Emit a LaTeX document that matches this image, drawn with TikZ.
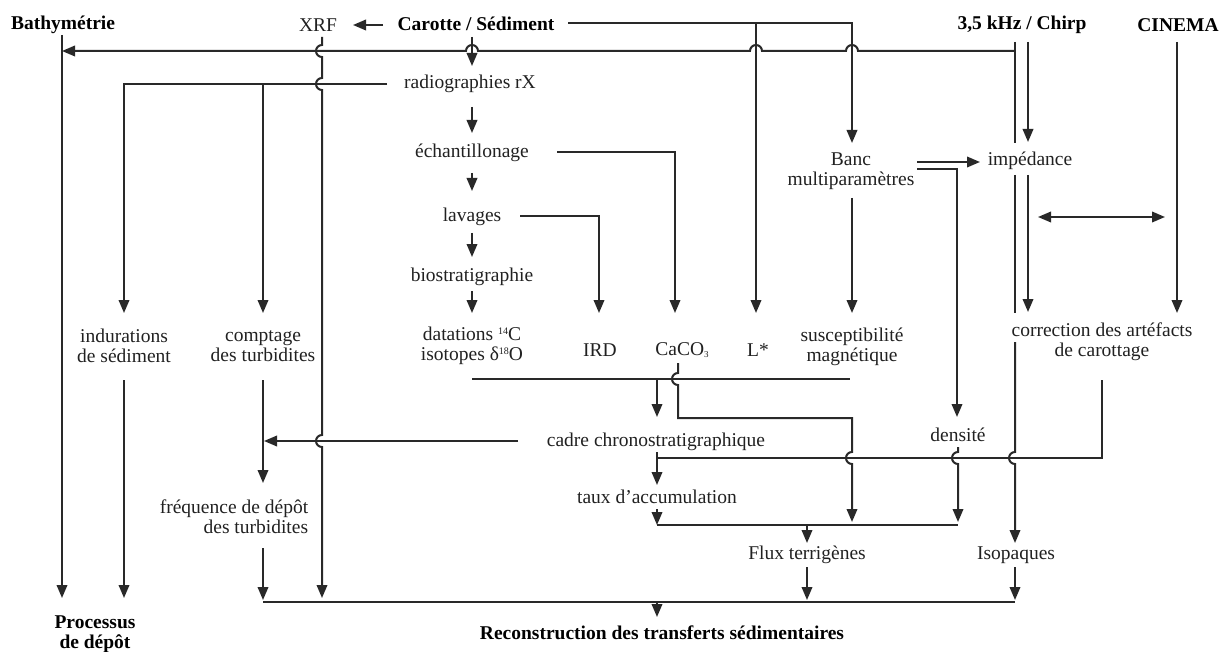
\documentclass[tikz,border=0pt]{standalone}
\usepackage{fontspec}
\setmainfont{Liberation Serif}
\usetikzlibrary{arrows.meta,calc}
\definecolor{tc}{rgb}{0.13,0.13,0.13}
\definecolor{lc}{rgb}{0.16,0.16,0.16}
\newcommand\dfs{\fontsize{19.5}{20}\selectfont}
\newcommand\mysup[1]{\raisebox{6.5pt}{\fontsize{10}{10}\selectfont #1}}
\newcommand\mysub[1]{\raisebox{-2pt}{\fontsize{9}{9}\selectfont #1}}
\tikzset{
  ln/.style={line width=2pt, draw=lc},
  arr/.style={ln, -{Triangle[length=13pt,width=10.5pt]}},
  darr/.style={ln, {Triangle[length=13pt,width=10.5pt]}-{Triangle[length=13pt,width=10.5pt]}},
  txt/.style={inner sep=0pt, text=tc, font=\dfs, align=center},
  btxt/.style={txt, text=black, font=\dfs\bfseries},
}
\begin{document}
\begin{tikzpicture}[x=1pt,y=1pt]
\useasboundingbox[fill=white] (0,0) rectangle (1222,-652);
% nodes
\node[btxt] (bathy) at (63,-25) {Bathymétrie};
\node[txt] (xrf) at (318,-25) {XRF};
\node[btxt] (carotte) at (476,-24) {Carotte / Sédiment};
\node[btxt] (chirp) at (1022,-25) {3,5 kHz / Chirp};
\node[btxt] (cinema) at (1178,-25) {CINEMA};
\node[txt] (radio) at (470,-84) {radiographies rX};
\node[txt] (echant) at (472,-153) {échantillonage};
\node[txt] (lavages) at (472,-217) {lavages};
\node[txt] (bio) at (472,-277) {biostratigraphie};
\node[txt] (dat) at (472,-346) {datations \mysup{14}C\\isotopes δ\mysup{18}O};
\node[txt] (ird) at (600,-350) {IRD};
\node[txt] (caco) at (682,-350) {CaCO\mysub{3}};
\node[txt] (lstar) at (758,-350) {L*};
\node[txt] (susc) at (852,-347) {susceptibilité\\magnétique};
\node[txt] (banc) at (851,-171) {Banc\\multiparamètres};
\node[txt] (imped) at (1030,-161) {impédance};
\node[txt] (correc) at (1102,-342) {correction des artéfacts\\de carottage};
\node[txt] (indur) at (124,-346) {indurations\\de sédiment};
\node[txt] (compt) at (263,-346) {comptage\\des turbidites};
\node[txt] (cadre) at (656,-442) {cadre chronostratigraphique};
\node[txt] (dens) at (958,-435) {densité};
\node[txt] (taux) at (657,-497) {taux d’accumulation};
\node[txt, align=right] (freq) at (234,-517) {fréquence de dépôt\\des turbidites};
\node[txt] (flux) at (807,-555) {Flux terrigènes};
\node[txt] (iso) at (1016,-555) {Isopaques};
\node[btxt] (recon) at (662,-633) {Reconstruction des transferts sédimentaires};
\node[btxt] (proc) at (95,-634) {Processus\\de dépôt};
% junction coordinates
\coordinate (jL) at ($(carotte)+(280,1)$);
\coordinate (jC) at ($(radio)+(-207,0)$);
\coordinate (jCadre) at ($(cadre)+(1,63)$);
\coordinate (jFlux) at ($(flux)+(0,30)$);
\coordinate (jRec) at ($(recon)+(-5,31)$);
% connectors
\draw[arr] ($(carotte)+(-93,-1)$) -- ($(xrf)+(35,0)$);
\draw[arr] ($(carotte)+(-4,-13)$) -- ($(radio)+(2,18)$);
\draw[arr] ($(radio)+(2,-23)$) -- ($(echant)+(0,20)$);
\draw[arr] ($(echant)+(0,-20)$) -- ($(lavages)+(0,26)$);
\draw[arr] ($(lavages)+(0,-16)$) -- ($(bio)+(0,20)$);
\draw[arr] ($(bio)+(0,-14)$) -- ($(dat)+(0,33)$);
% Carotte line
\draw[arr] ($(carotte)+(92,1)$) -| ($(banc)+(1,28)$);
\draw[arr] (jL) -- ($(lstar)+(-2,37)$);
% Chirp -> Bathymetrie
\draw[arr] ($(chirp)+(-7,-26)$) -- (858,-51) arc(0:180:6) -- (762,-51) arc(0:180:6)
  -- (478,-51) arc(0:180:6) -- ($(bathy)+(-1,-26)$);
% Chirp left vertical
\draw[ln] ($(chirp)+(-7,-17)$) -- ($(imped)+(-15,18)$);
\draw[ln] ($(imped)+(-15,-14)$) -- ($(correc)+(-87,29)$);
\draw[arr] ($(correc)+(-87,0)$) -- (1015,-452) arc(90:270:6) -- ($(iso)+(-1,12)$);
% Chirp right vertical
\draw[arr] ($(chirp)+(6,-17)$) -- ($(imped)+(-2,19)$);
\draw[arr] ($(imped)+(-2,-14)$) -- ($(correc)+(-74,30)$);
% CINEMA
\draw[arr] ($(cinema)+(-1,-17)$) -- ($(correc)+(75,29)$);
\draw[darr] ($(correc)+(-64,125)$) -- ($(correc)+(63,125)$);
% Banc
\draw[arr] ($(banc)+(66,9)$) -- ($(imped)+(-50,-1)$);
\draw[arr] ($(banc)+(66,2)$) -| ($(dens)+(-1,18)$);
\draw[arr] ($(banc)+(1,-27)$) -- ($(susc)+(0,34)$);
% radiographies branches
\draw[arr] ($(radio)+(-83,0)$) -| ($(indur)+(0,33)$);
\draw[arr] (jC) -- ($(compt)+(0,33)$);
% XRF vertical
\draw[arr] ($(xrf)+(4,-12)$) -- (322,-45) arc(90:270:6) -- (322,-78) arc(90:270:6)
  -- (322,-435) arc(90:270:6) -- ($(xrf)+(4,-573)$);
% echantillonage / lavages
\draw[arr] ($(echant)+(85,1)$) -| ($(caco)+(-7,37)$);
\draw[arr] ($(lavages)+(48,1)$) -| ($(ird)+(-1,37)$);
% bar
\draw[ln] ($(dat)+(0,-33)$) -- ($(susc)+(-2,-32)$);
\draw[arr] (jCadre) -- ($(cadre)+(1,25)$);
% CaCO3 line
\draw[arr] ($(caco)+(-4,-13)$) -- (678,-373) arc(90:270:6) -- (678,-418) -- (852,-418)
  -- (852,-452) arc(90:270:6) -- ($(flux)+(45,33)$);
% cadre -> comptage
\draw[arr] ($(cadre)+(-138,1)$) -- ($(compt)+(1,-95)$);
% cadre -> taux
\draw[arr] ($(cadre)+(1,-10)$) -- ($(taux)+(0,12)$);
\draw[ln] ($(correc)+(0,-38)$) |- ($(cadre)+(1,-16)$);
% densite
\draw[arr] ($(dens)+(0,-12)$) -- (958,-452) arc(90:270:6) -- ($(flux)+(151,33)$);
% taux -> flux line
\draw[arr] ($(taux)+(0,-12)$) -- ($(taux)+(0,-28)$);
\draw[ln] ($(taux)+(0,-28)$) -- ($(flux)+(151,30)$);
\draw[arr] (jFlux) -- ($(flux)+(0,12)$);
% to bottom line
\draw[arr] ($(flux)+(0,-12)$) -- ($(flux)+(0,-45)$);
\draw[arr] ($(iso)+(-1,-12)$) -- ($(iso)+(-1,-45)$);
\draw[ln] ($(freq)+(29,-85)$) -- ($(iso)+(-1,-47)$);
\draw[arr] (jRec) -- ($(recon)+(-5,16)$);
% comptage -> frequence -> bottom
\draw[arr] ($(compt)+(0,-34)$) -- ($(freq)+(29,34)$);
\draw[arr] ($(freq)+(29,-31)$) -- ($(freq)+(29,-83)$);
% left verticals
\draw[arr] ($(bathy)+(-1,-10)$) -- ($(proc)+(-33,36)$);
\draw[arr] ($(indur)+(0,-34)$) -- ($(proc)+(29,36)$);
\end{tikzpicture}
\end{document}
